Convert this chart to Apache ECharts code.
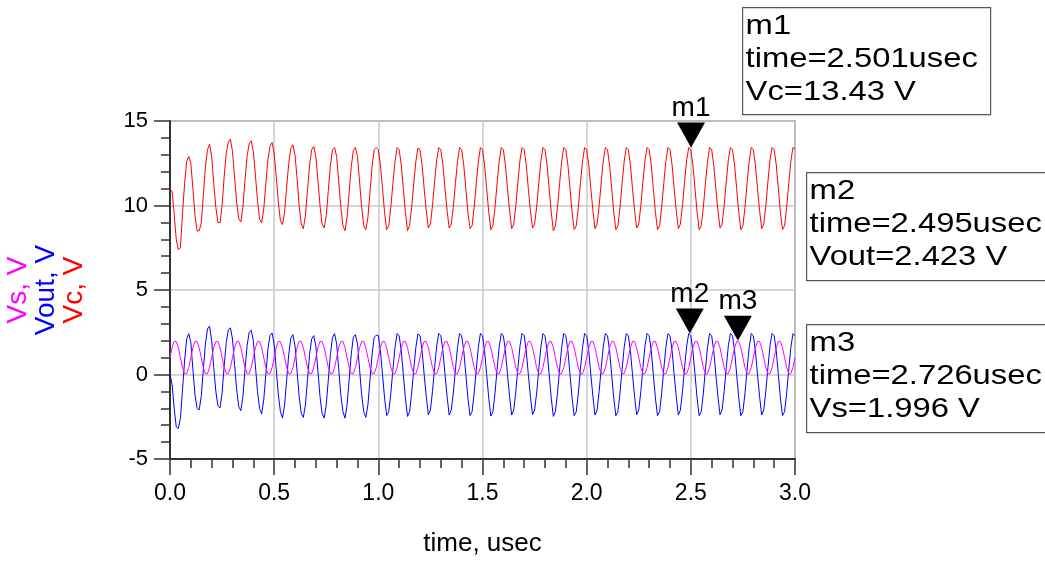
<!DOCTYPE html>
<html>
<head>
<meta charset="utf-8">
<script src="https://cdn.jsdelivr.net/npm/echarts@6/dist/echarts.min.js"></script>
<style>
html,body{margin:0;padding:0;background:#fff;}
#chart{width:1045px;height:561px;}
</style>
</head>
<body>
<div id="chart"></div>
<script>
// time grid: 0.00 .. 3.00 usec, one sample every 0.01 usec
const timeStepUsec = 0.01;

// Vc (red), one row per 0.1 usec
const vcValues = [
  10.95,10.85,9.5,8.0,7.4,7.5,9.5,11.3,12.6,12.9,
  12.5,11.0,9.4,8.5,8.5,8.95,10.6,12.3,13.3,13.63,
  12.9,11.3,9.9,9.0,8.97,10.0,11.7,13.1,13.75,13.93,
  13.2,11.7,10.2,9.2,9.03,9.9,11.5,12.9,13.65,13.83,
  13.2,11.8,10.3,9.2,8.97,9.8,11.3,12.7,13.5,13.73,
  13.1,11.7,10.2,9.1,8.87,9.6,11.1,12.5,13.4,13.59,
  13.0,11.6,10.0,8.9,8.63,9.4,10.9,12.4,13.3,13.49,
  12.9,11.5,10.0,8.9,8.67,9.4,10.9,12.4,13.3,13.43,
  12.9,11.4,9.9,8.8,8.51,9.3,10.8,12.3,13.25,13.43,
  12.9,11.4,9.9,8.8,8.57,9.3,10.8,12.3,13.3,13.43,
  13.3,12.4,11.0,9.6,8.57,8.8,9.9,11.3,12.6,13.43,
  13.3,12.4,11.0,9.6,8.51,8.8,9.9,11.3,12.6,13.4,
  13.3,12.4,11.0,9.7,8.67,8.9,10.0,11.4,12.7,13.43,
  13.3,12.4,11.0,9.7,8.67,8.9,9.9,11.3,12.6,13.43,
  13.3,12.4,11.0,9.6,8.63,8.8,9.9,11.3,12.6,13.43,
  13.3,12.4,11.0,9.6,8.57,8.8,9.9,11.3,12.6,13.43,
  13.3,12.4,11.0,9.7,8.63,8.9,10.0,11.4,12.7,13.43,
  13.3,12.4,11.0,9.7,8.67,8.9,9.9,11.3,12.6,13.43,
  13.3,12.4,11.0,9.6,8.51,8.8,9.9,11.3,12.6,13.43,
  13.3,12.4,11.0,9.6,8.57,8.8,9.9,11.3,12.6,13.43,
  13.3,12.4,11.0,9.7,8.63,8.9,10.0,11.4,12.7,13.43,
  13.3,12.4,11.0,9.6,8.57,8.8,9.9,11.3,12.6,13.43,
  13.3,12.4,11.0,9.7,8.67,8.9,10.0,11.4,12.7,13.43,
  13.3,12.4,11.0,9.6,8.57,8.8,9.9,11.3,12.6,13.43,
  13.3,12.4,11.0,9.7,8.63,8.9,10.0,11.4,12.7,13.43,
  13.3,12.4,11.0,9.6,8.57,8.8,9.9,11.3,12.6,13.43,
  13.3,12.4,11.0,9.7,8.67,8.9,10.0,11.4,12.7,13.43,
  13.3,12.4,11.0,9.6,8.57,8.8,9.9,11.3,12.6,13.43,
  13.3,12.4,11.0,9.7,8.63,8.9,10.0,11.4,12.7,13.43,
  13.3,12.4,11.0,9.6,8.57,8.8,9.9,11.3,12.6,13.43,
  13.35
];

// Vout (blue)
const voutValues = [
  0.0,-0.6,-2.0,-3.1,-3.2,-2.6,-0.9,0.8,2.1,2.42,
  1.9,0.3,-1.2,-2.0,-2.1,-1.3,0.3,1.8,2.7,2.86,
  2.0,0.4,-1.0,-1.85,-1.98,-1.1,0.5,1.9,2.65,2.76,
  2.1,0.6,-0.9,-1.9,-2.14,-1.3,0.3,1.7,2.5,2.62,
  2.0,0.5,-1.0,-2.0,-2.34,-1.5,0.0,1.5,2.3,2.46,
  1.8,0.3,-1.2,-2.2,-2.58,-1.8,-0.3,1.2,2.15,2.36,
  1.7,0.2,-1.3,-2.3,-2.54,-1.8,-0.3,1.2,2.1,2.3,
  1.7,0.2,-1.3,-2.3,-2.58,-1.8,-0.3,1.2,2.2,2.42,
  1.8,0.3,-1.2,-2.2,-2.58,-1.8,-0.3,1.2,2.2,2.36,
  1.8,0.3,-1.2,-2.2,-2.54,-1.8,-0.3,1.2,2.2,2.32,
  2.3,1.4,0.0,-1.4,-2.43,-2.2,-1.1,0.3,1.6,2.42,
  2.3,1.4,0.0,-1.4,-2.48,-2.2,-1.1,0.3,1.6,2.4,
  2.3,1.4,0.0,-1.3,-2.38,-2.1,-1.0,0.4,1.7,2.43,
  2.3,1.4,0.0,-1.3,-2.4,-2.1,-1.1,0.3,1.6,2.42,
  2.3,1.4,0.0,-1.4,-2.43,-2.2,-1.1,0.3,1.6,2.43,
  2.3,1.4,0.0,-1.4,-2.46,-2.2,-1.1,0.3,1.6,2.42,
  2.3,1.4,0.0,-1.3,-2.4,-2.1,-1.0,0.4,1.7,2.43,
  2.3,1.4,0.0,-1.3,-2.38,-2.1,-1.1,0.3,1.6,2.42,
  2.3,1.4,0.0,-1.4,-2.48,-2.2,-1.1,0.3,1.6,2.43,
  2.3,1.4,0.0,-1.4,-2.44,-2.2,-1.1,0.3,1.6,2.42,
  2.3,1.4,0.0,-1.3,-2.4,-2.1,-1.0,0.4,1.7,2.43,
  2.3,1.4,0.0,-1.4,-2.44,-2.2,-1.1,0.3,1.6,2.42,
  2.3,1.4,0.0,-1.3,-2.38,-2.1,-1.0,0.4,1.7,2.43,
  2.3,1.4,0.0,-1.4,-2.44,-2.2,-1.1,0.3,1.6,2.42,
  2.3,1.4,0.0,-1.3,-2.4,-2.1,-1.0,0.4,1.7,2.423,
  2.3,1.4,0.0,-1.4,-2.44,-2.2,-1.1,0.3,1.6,2.42,
  2.3,1.4,0.0,-1.3,-2.38,-2.1,-1.0,0.4,1.7,2.43,
  2.3,1.4,0.0,-1.4,-2.44,-2.2,-1.1,0.3,1.6,2.42,
  2.3,1.4,0.0,-1.3,-2.4,-2.1,-1.0,0.4,1.7,2.43,
  2.3,1.4,0.0,-1.4,-2.44,-2.2,-1.1,0.3,1.6,2.42,
  2.3
];

// Vs (magenta)
const vsValues = [
  1.0,1.59,1.95,1.95,1.59,1.0,0.41,0.05,0.05,0.41,
  1.0,1.59,1.95,1.95,1.59,1.0,0.41,0.05,0.05,0.41,
  1.0,1.59,1.95,1.95,1.59,1.0,0.41,0.05,0.05,0.41,
  1.0,1.59,1.95,1.95,1.59,1.0,0.41,0.05,0.05,0.41,
  1.0,1.59,1.95,1.95,1.59,1.0,0.41,0.05,0.05,0.41,
  1.0,1.59,1.95,1.95,1.59,1.0,0.41,0.05,0.05,0.41,
  1.0,1.59,1.95,1.95,1.59,1.0,0.41,0.05,0.05,0.41,
  1.0,1.59,1.95,1.95,1.59,1.0,0.41,0.05,0.05,0.41,
  1.0,1.59,1.95,1.95,1.59,1.0,0.41,0.05,0.05,0.41,
  1.0,1.59,1.95,1.95,1.59,1.0,0.41,0.05,0.05,0.41,
  1.0,1.59,1.95,1.95,1.59,1.0,0.41,0.05,0.05,0.41,
  1.0,1.59,1.95,1.95,1.59,1.0,0.41,0.05,0.05,0.41,
  1.0,1.59,1.95,1.95,1.59,1.0,0.41,0.05,0.05,0.41,
  1.0,1.59,1.95,1.95,1.59,1.0,0.41,0.05,0.05,0.41,
  1.0,1.59,1.95,1.95,1.59,1.0,0.41,0.05,0.05,0.41,
  1.0,1.59,1.95,1.95,1.59,1.0,0.41,0.05,0.05,0.41,
  1.0,1.59,1.95,1.95,1.59,1.0,0.41,0.05,0.05,0.41,
  1.0,1.59,1.95,1.95,1.59,1.0,0.41,0.05,0.05,0.41,
  1.0,1.59,1.95,1.95,1.59,1.0,0.41,0.05,0.05,0.41,
  1.0,1.59,1.95,1.95,1.59,1.0,0.41,0.05,0.05,0.41,
  1.0,1.59,1.95,1.95,1.59,1.0,0.41,0.05,0.05,0.41,
  1.0,1.59,1.95,1.95,1.59,1.0,0.41,0.05,0.05,0.41,
  1.0,1.59,1.95,1.95,1.59,1.0,0.41,0.05,0.05,0.41,
  1.0,1.59,1.95,1.95,1.59,1.0,0.41,0.05,0.05,0.41,
  1.0,1.59,1.95,1.95,1.59,1.0,0.41,0.05,0.05,0.41,
  1.0,1.59,1.95,1.95,1.59,1.0,0.41,0.05,0.05,0.41,
  1.0,1.59,1.95,1.95,1.59,1.0,0.41,0.05,0.05,0.41,
  1.0,1.59,1.95,1.95,1.59,1.0,0.41,0.05,0.05,0.41,
  1.0,1.59,1.95,1.95,1.59,1.0,0.41,0.05,0.05,0.41,
  1.0,1.59,1.95,1.95,1.59,1.0,0.41,0.05,0.05,0.41,
  1.0
];

// markers
const markerNames = ['m1', 'm2', 'm3'];
const markerTimes = [2.501, 2.495, 2.726];
const markerValues = [13.43, 2.423, 1.996];
const markerSignals = ['Vc', 'Vout', 'Vs'];

// axis ticks
const xTickMin = 0, xTickMax = 3.0, xTickStep = 0.5;
const yTickMin = -5, yTickMax = 15, yTickStep = 5;

const FONT = '"Liberation Sans", Arial, Helvetica, sans-serif';

function pairs(vals) {
  return vals.map((v, i) => [+(i * timeStepUsec).toFixed(2), v]);
}

function marker(i) {
  return {
    symbol: 'path://M0,0 L28,0 L14,25 Z',
    symbolSize: [28, 25],
    symbolOffset: [0, '-50%'],
    itemStyle: { color: '#000' },
    label: {
      show: true, position: 'top', distance: 0,
      color: '#000', fontSize: 28, fontFamily: FONT,
      formatter: '{b}'
    },
    data: [{ name: markerNames[i], coord: [markerTimes[i], markerValues[i]] }]
  };
}

function boxText(i) {
  return markerNames[i] + '\n' +
    'time=' + markerTimes[i].toFixed(3) + 'usec\n' +
    markerSignals[i] + '=' + markerValues[i] + ' V';
}

function box(i, x, y, w, h) {
  return {
    type: 'group', left: x, top: y,
    children: [
      { type: 'rect', shape: { x: 0, y: 0, width: w, height: h },
        style: { fill: '#fff', stroke: '#555', lineWidth: 1.2 } },
      { type: 'text', x: 3, y: 2, scaleX: 1.17,
        style: { text: boxText(i), fill: '#000', fontSize: 28,
                 fontFamily: FONT, lineHeight: 33, verticalAlign: 'top' } }
    ]
  };
}

const chart = echarts.init(document.getElementById('chart'));
chart.setOption({
  animation: false,
  backgroundColor: '#fff',
  grid: {
    left: 170, top: 121, width: 625, height: 338,
    outerBoundsMode: 'none', containLabel: false,
    show: true, borderColor: '#777', borderWidth: 1.5, backgroundColor: 'transparent'
  },
  xAxis: {
    type: 'value', min: xTickMin, max: xTickMax, interval: xTickStep,
    name: 'time, usec', nameLocation: 'middle', nameGap: 72,
    nameTextStyle: { fontSize: 26, color: '#000', fontFamily: FONT },
    axisLine: { onZero: false, lineStyle: { color: '#333', width: 2 } },
    axisTick: { show: true, length: 16, lineStyle: { color: '#333', width: 1.5 } },
    minorTick: { show: true, splitNumber: 5, length: 9, lineStyle: { color: '#333', width: 1.5 } },
    axisLabel: { fontSize: 23, color: '#000', fontFamily: FONT, margin: 23,
                 formatter: v => v.toFixed(1) },
    splitLine: { show: true, lineStyle: { color: '#c8c8c8', width: 1.5 } }
  },
  yAxis: {
    type: 'value', min: yTickMin, max: yTickMax, interval: yTickStep,
    name: '{s|Vs, V}\n{o|Vout, V}\n{c|Vc, V}',
    nameLocation: 'middle', nameRotate: 90, nameGap: 82,
    nameTextStyle: {
      fontFamily: FONT, fontSize: 28, lineHeight: 28, align: 'center',
      rich: {
        s: { color: '#ff00ff', fontSize: 28, lineHeight: 28, fontFamily: FONT },
        o: { color: '#0000ff', fontSize: 28, lineHeight: 28, fontFamily: FONT },
        c: { color: '#ff0000', fontSize: 28, lineHeight: 28, fontFamily: FONT }
      }
    },
    axisLine: { show: true, onZero: false, lineStyle: { color: '#333', width: 2 } },
    axisTick: { show: true, length: 16, lineStyle: { color: '#333', width: 1.5 } },
    minorTick: { show: true, splitNumber: 5, length: 9, lineStyle: { color: '#333', width: 1.5 } },
    axisLabel: { fontSize: 22, color: '#000', fontFamily: FONT, margin: 22 },
    splitLine: { show: true, lineStyle: { color: '#c8c8c8', width: 1.5 } }
  },
  series: [
    { name: 'Vc', type: 'line', data: pairs(vcValues), showSymbol: false,
      lineStyle: { color: '#ff0000', width: 1 }, itemStyle: { color: '#ff0000' },
      markPoint: marker(0), z: 3 },
    { name: 'Vout', type: 'line', data: pairs(voutValues), showSymbol: false,
      lineStyle: { color: '#0000ff', width: 1 }, itemStyle: { color: '#0000ff' },
      markPoint: marker(1), z: 3 },
    { name: 'Vs', type: 'line', data: pairs(vsValues), showSymbol: false,
      lineStyle: { color: '#ff00ff', width: 1 }, itemStyle: { color: '#ff00ff' },
      markPoint: marker(2), z: 4 }
  ],
  graphic: [
    box(0, 742, 7, 248, 107),
    box(1, 806, 172, 260, 108),
    box(2, 806, 324, 260, 108)
  ]
});
</script>
</body>
</html>
